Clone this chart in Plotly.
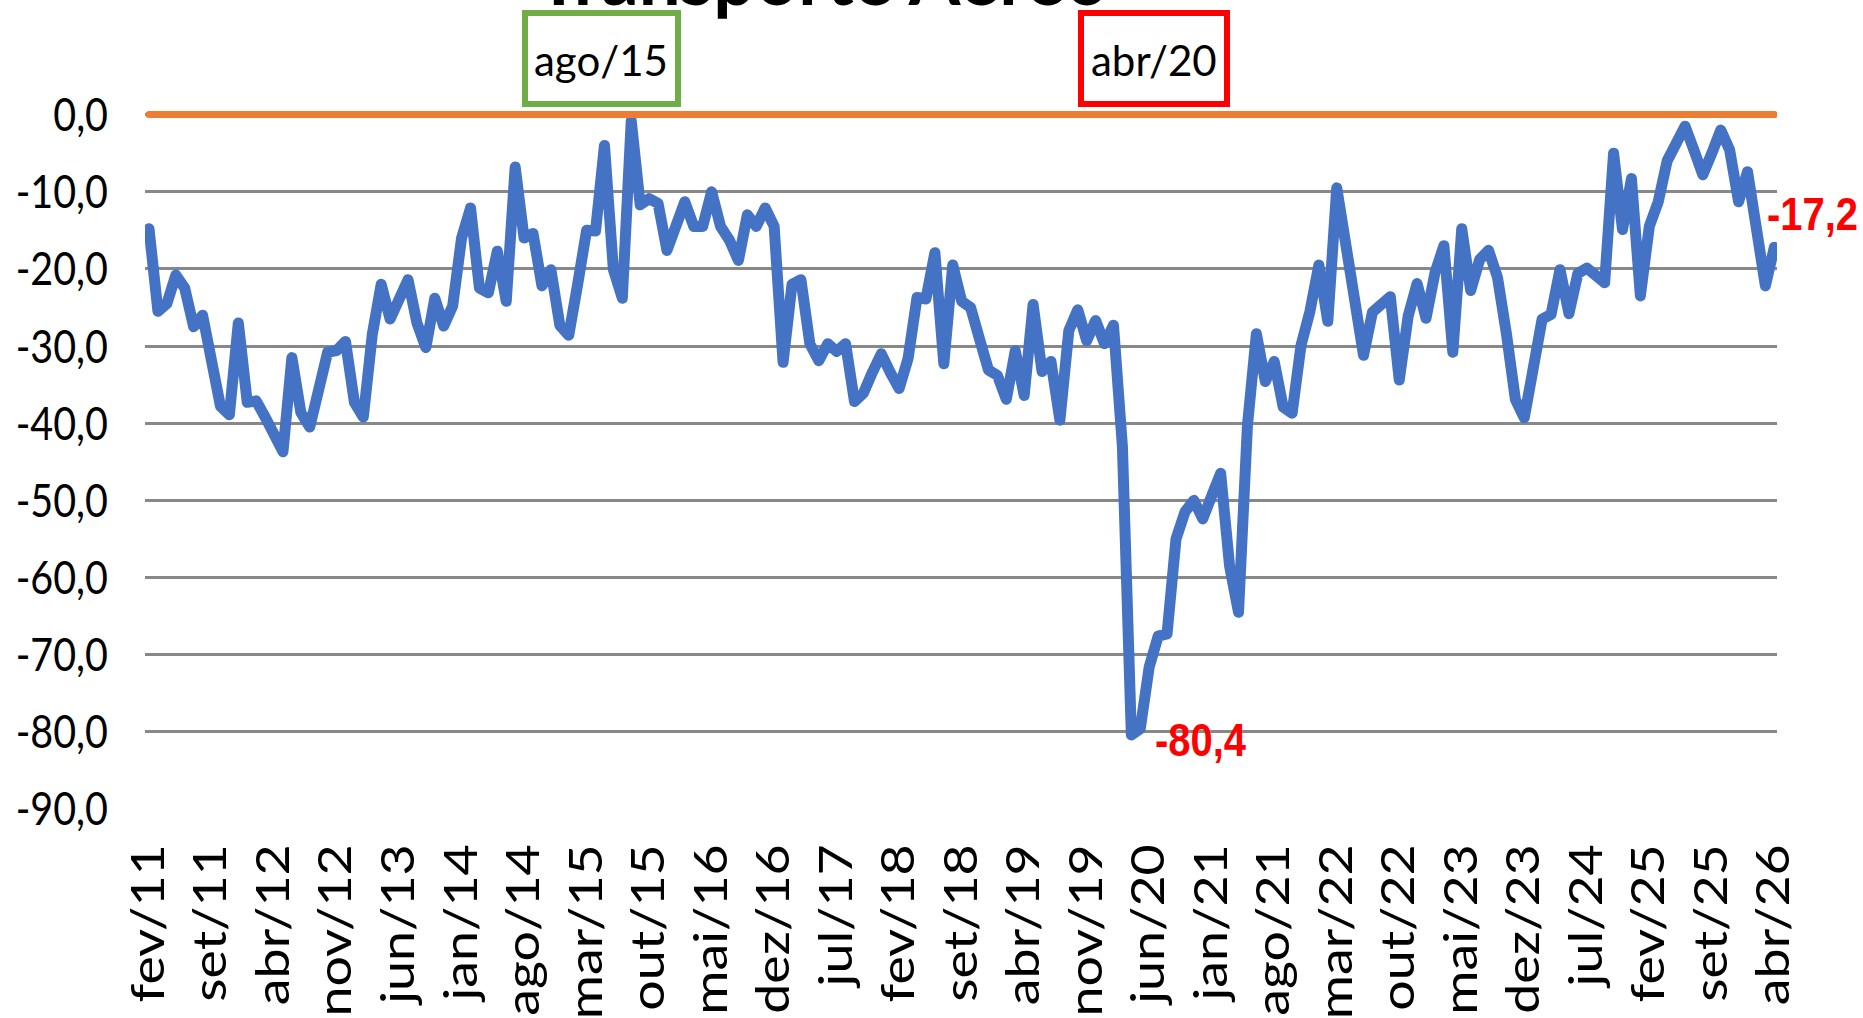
import plotly.graph_objects as go

# ---------------- data ----------------
MONTHS_PT = ["jan", "fev", "mar", "abr", "mai", "jun", "jul", "ago", "set", "out", "nov", "dez"]
categories = []
_y, _m = 2011, 2
while (_y, _m) <= (2026, 4):
    categories.append(f"{MONTHS_PT[_m - 1]}/{str(_y)[2:]}")
    _m += 1
    if _m > 12:
        _m, _y = 1, _y + 1

values = [
    -14.8, -25.5, -24.5, -20.8, -22.5, -27.5, -26.0, -31.8, -37.8, -38.9,
    -27.0, -37.3, -37.1, -39.2, -41.2, -43.7, -31.5, -38.6, -40.5, -36.0,
    -30.8, -30.6, -29.4, -37.3, -39.2, -28.5, -22.0, -26.5, -24.0, -21.4,
    -27.0, -30.2, -23.8, -27.4, -24.8, -16.0, -12.1, -22.5, -23.1, -17.7,
    -24.2, -6.8, -16.0, -15.4, -22.2, -20.1, -27.3, -28.6, -22.0, -15.0,
    -15.1, -4.0, -20.1, -23.8, -0.8, -11.7, -10.9, -11.5, -17.6, -14.5,
    -11.3, -14.5, -14.5, -10.0, -14.5, -16.3, -18.9, -13.0, -14.5, -12.1,
    -14.5, -32.1, -22.0, -21.4, -29.7, -31.9, -29.7, -30.7, -29.7, -37.2,
    -36.1, -33.4, -31.0, -33.4, -35.5, -31.6, -23.7, -23.9, -17.9, -32.3,
    -19.5, -24.2, -25.0, -29.1, -33.1, -33.8, -36.9, -30.6, -36.4, -24.6,
    -33.3, -32.0, -39.6, -28.0, -25.3, -29.3, -26.7, -29.7, -27.3, -43.0,
    -80.4, -79.6, -71.6, -67.6, -67.3, -55.0, -51.5, -50.0, -52.4, -49.4,
    -46.5, -58.5, -64.5, -40.3, -28.4, -34.6, -32.0, -37.9, -38.7, -29.9,
    -25.5, -19.5, -26.8, -9.5, -16.5, -23.5, -31.2, -25.6, -24.8, -23.6,
    -34.4, -26.1, -21.9, -26.4, -20.5, -17.0, -30.8, -14.8, -22.8, -18.8,
    -17.6, -21.1, -28.4, -36.9, -39.3, -32.1, -26.5, -25.9, -20.1, -25.8,
    -20.6, -19.9, -21.1, -21.8, -5.0, -14.9, -8.3, -23.5, -14.5, -11.3,
    -6.0, -3.5, -1.5, -4.6, -7.8, -5.0, -2.0, -4.6, -11.3, -7.4,
    -15.6, -22.2, -17.2,
]
reference_line = [0.0] * len(categories)

x_tick_vals = categories[::7]
y_tick_vals = [0, -10, -20, -30, -40, -50, -60, -70, -80, -90]
y_tick_text = ["0,0", "-10,0", "-20,0", "-30,0", "-40,0", "-50,0", "-60,0", "-70,0", "-80,0", "-90,0"]

title_text = "Transporte Aéreo"
box_labels = ["ago/15", "abr/20"]
min_label = ("abr/20", -80.4, "-80,4")
last_label = ("abr/26", -17.2, "-17,2")

# ---------------- layout geometry (pixels) ----------------
W, H = 1863, 1018
L, R, T, B = 145, 86, 103, 209
PW, PH = W - L - R, H - T - B


def PX(x):
    return (x - L) / PW


def PY(y):
    return (T + PH - y) / PH


BLUE = "#4472C4"
ORANGE = "#ED7D31"
GREEN = "#70AD47"
RED = "#FF0000"
FONT = "Lato, Liberation Sans, sans-serif"
BOLD_FONT = "Liberation Sans, Arial, sans-serif"

fig = go.Figure()
fig.add_trace(go.Scatter(x=categories, y=values, mode="lines",
                         line=dict(color=BLUE, width=11), hoverinfo="skip"))
fig.add_trace(go.Scatter(x=categories, y=reference_line, mode="lines",
                         line=dict(color=ORANGE, width=7), hoverinfo="skip"))

shapes = [
    dict(type="rect", xref="paper", yref="paper",
         x0=PX(525), x1=PX(678), y0=PY(104), y1=PY(13),
         line=dict(color=GREEN, width=6), fillcolor="white", layer="above"),
    dict(type="rect", xref="paper", yref="paper",
         x0=PX(1081), x1=PX(1227), y0=PY(104), y1=PY(13),
         line=dict(color=RED, width=6), fillcolor="white", layer="above"),
]

annotations = [
    dict(text=f"<b>{title_text}</b>", xref="paper", yref="paper",
         x=PX(822), y=PY(24), xanchor="center", yanchor="bottom", showarrow=False,
         font=dict(family=FONT, size=80, color="black")),
    dict(text=box_labels[0], xref="paper", yref="paper",
         x=PX(601), y=PY(60), xanchor="center", yanchor="middle", showarrow=False,
         font=dict(family=FONT, size=42, color="black")),
    dict(text=box_labels[1], xref="paper", yref="paper",
         x=PX(1154), y=PY(60), xanchor="center", yanchor="middle", showarrow=False,
         font=dict(family=FONT, size=42, color="black")),
    dict(text=f"<b>{min_label[2]}</b>", x=min_label[0], y=min_label[1], xref="x", yref="y",
         xanchor="center", yanchor="middle", xshift=69, yshift=-5, showarrow=False,
         font=dict(family=BOLD_FONT, size=47, color=RED)),
    dict(text=f"<b>{last_label[2]}</b>", x=last_label[0], y=last_label[1], xref="x", yref="y",
         xanchor="center", yanchor="middle", xshift=38, yshift=34, showarrow=False,
         font=dict(family=BOLD_FONT, size=47, color=RED)),
]

fig.update_layout(
    width=W, height=H,
    margin=dict(l=L, r=R, t=T, b=B, pad=0),
    paper_bgcolor="white", plot_bgcolor="white",
    showlegend=False,
    shapes=shapes, annotations=annotations,
    xaxis=dict(type="category", range=[-0.45, 182.3], tickmode="array",
               tickvals=x_tick_vals, ticktext=x_tick_vals, tickangle=-90,
               showgrid=False, zeroline=False, showline=False, ticks="",
               ticklabelstandoff=25, automargin=False,
               tickfont=dict(family=FONT, size=46, color="black")),
    yaxis=dict(range=[-90, 1.5], tickmode="array", tickvals=y_tick_vals, ticktext=y_tick_text,
               showgrid=True, gridcolor="#888888", gridwidth=2.8, zeroline=False,
               showline=False, ticks="", ticklabelstandoff=36, automargin=False,
               tickfont=dict(family=FONT, size=47, color="black")),
)

post = """
document.body.style.margin='0';
document.body.style.overflow='hidden';
var st=document.createElement('style');
st.innerHTML='.scatterlayer .js-line{stroke-linejoin:round !important;stroke-linecap:round !important;}';
document.head.appendChild(st);
var gd=document.getElementsByClassName('plotly-graph-div')[0];
function sx(el,k,mode){
  var bb=el.getBBox();
  var cx=(mode==='end')?bb.x+bb.width:bb.x+bb.width/2;
  var cy=bb.y+bb.height/2;
  var tr=el.getAttribute('transform')||'';
  el.setAttribute('transform',tr+' translate('+cx+','+cy+') scale('+k+',1) translate('+(-cx)+','+(-cy)+')');
}
gd.querySelectorAll('.ytick text').forEach(function(t){sx(t,0.84,'end');});
gd.querySelectorAll('.xtick text').forEach(function(t){sx(t,1.17,'end');});
var ks={'0':0.93,'3':0.85,'4':0.85};
gd.querySelectorAll('.annotation').forEach(function(a){
  var k=ks[a.getAttribute('data-index')];
  var t=a.querySelector('text');
  if(k&&t){sx(t,k,'mid');}
});
"""
fig.write_html("out.html", post_script=post, config={"displayModeBar": False})
